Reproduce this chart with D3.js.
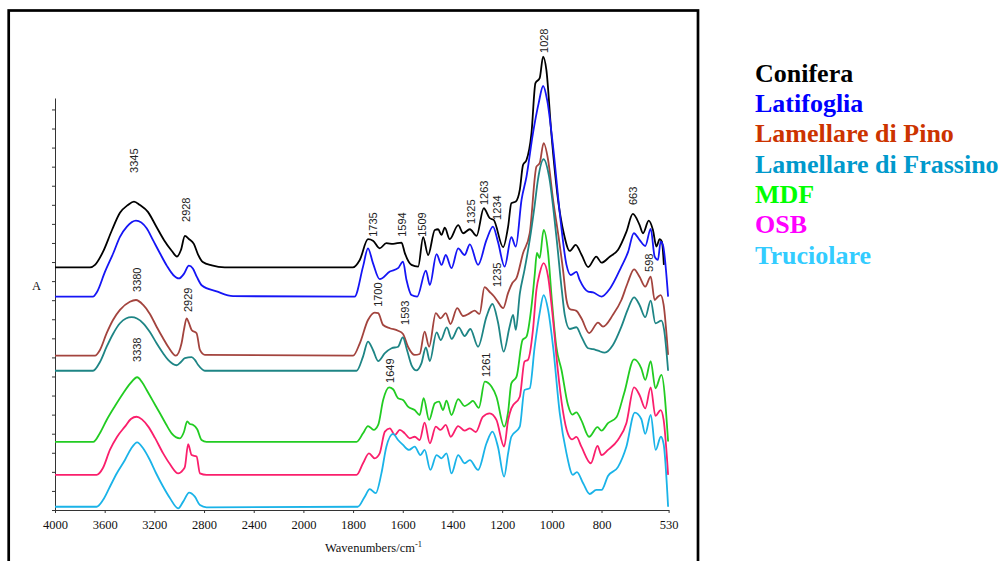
<!DOCTYPE html>
<html>
<head>
<meta charset="utf-8">
<script src="https://cdn.jsdelivr.net/npm/d3@7"></script>
<style>
  body { margin: 0; background: #fff; }
</style>
</head>
<body>
<script>
// spectra: [wavenumber cm-1, absorbance offset as plotted]
const conifera = [[4000,1.272],[3718,1.272],[3678,1.285],[3614,1.353],[3541,1.468],[3477,1.558],[3413,1.599],[3364,1.617],[3316,1.599],[3252,1.563],[3187,1.489],[3123,1.416],[3059,1.358],[3018,1.329],[2986,1.363],[2954,1.437],[2922,1.421],[2882,1.395],[2850,1.342],[2810,1.300],[2737,1.282],[2633,1.272],[1801,1.272],[1773,1.311],[1740,1.420],[1720,1.412],[1693,1.372],[1666,1.399],[1639,1.395],[1605,1.402],[1592,1.348],[1565,1.285],[1538,1.276],[1518,1.430],[1498,1.337],[1471,1.468],[1458,1.472],[1444,1.442],[1431,1.480],[1411,1.420],[1377,1.493],[1357,1.451],[1330,1.472],[1303,1.437],[1274,1.582],[1250,1.530],[1234,1.521],[1196,1.378],[1176,1.486],[1163,1.608],[1145,1.617],[1129,1.678],[1116,1.809],[1102,1.835],[1082,1.975],[1066,2.238],[1049,2.264],[1035,2.377],[1022,2.307],[1002,1.975],[975,1.626],[952,1.451],[928,1.358],[904,1.390],[880,1.337],[854,1.274],[821,1.328],[800,1.297],[767,1.328],[734,1.363],[700,1.458],[674,1.552],[647,1.495],[633,1.451],[610,1.517],[593,1.468],[579,1.381],[566,1.420],[557,1.407],[549,1.285]];

const latifoglia = [[4000,1.119],[3694,1.119],[3662,1.143],[3598,1.248],[3531,1.346],[3477,1.432],[3421,1.486],[3348,1.517],[3262,1.477],[3212,1.416],[3155,1.346],[3099,1.280],[3048,1.232],[3002,1.214],[2962,1.238],[2922,1.281],[2890,1.266],[2858,1.222],[2817,1.177],[2699,1.146],[2566,1.121],[1794,1.119],[1760,1.276],[1740,1.372],[1720,1.294],[1693,1.210],[1652,1.250],[1619,1.268],[1599,1.302],[1585,1.206],[1565,1.127],[1542,1.119],[1507,1.255],[1491,1.180],[1464,1.342],[1444,1.285],[1427,1.337],[1404,1.268],[1377,1.372],[1351,1.337],[1330,1.393],[1297,1.285],[1263,1.416],[1237,1.486],[1217,1.407],[1190,1.276],[1163,1.430],[1145,1.381],[1122,1.626],[1102,1.748],[1076,1.975],[1053,2.133],[1035,2.223],[1019,2.150],[995,1.905],[968,1.556],[941,1.285],[924,1.232],[901,1.248],[888,1.206],[854,1.145],[834,1.141],[800,1.119],[767,1.159],[720,1.276],[693,1.353],[670,1.451],[647,1.416],[624,1.384],[602,1.474],[586,1.328],[573,1.311],[562,1.407],[553,1.390],[532,1.119]];

const pino = [[4000,0.809],[3678,0.809],[3638,0.839],[3584,0.927],[3533,0.996],[3477,1.049],[3397,1.092],[3348,1.101],[3290,1.075],[3236,1.028],[3182,0.961],[3131,0.902],[3089,0.856],[3027,0.809],[2981,0.874],[2962,0.944],[2940,1.005],[2922,0.981],[2900,0.944],[2860,0.927],[2833,0.839],[2793,0.813],[1800,0.809],[1773,0.874],[1740,0.996],[1713,1.035],[1699,1.032],[1679,0.970],[1652,0.953],[1619,0.940],[1599,0.923],[1579,0.856],[1552,0.813],[1532,0.818],[1512,0.935],[1494,0.856],[1467,1.032],[1448,1.005],[1427,1.032],[1408,0.975],[1381,1.058],[1357,1.017],[1330,1.032],[1311,1.045],[1291,1.028],[1271,1.168],[1250,1.143],[1234,1.122],[1217,1.091],[1196,1.058],[1176,1.138],[1159,1.190],[1142,1.217],[1116,1.346],[1089,1.451],[1062,1.800],[1049,1.818],[1033,1.923],[1015,1.835],[995,1.626],[975,1.451],[955,1.259],[941,1.101],[928,1.054],[901,1.044],[881,1.005],[850,0.928],[814,0.982],[794,0.961],[754,1.023],[720,1.101],[695,1.190],[669,1.262],[647,1.223],[624,1.171],[602,1.223],[586,1.101],[574,1.117],[562,1.127],[550,1.075],[532,0.813]];

const frassino = [[4000,0.730],[3694,0.730],[3638,0.776],[3584,0.856],[3533,0.923],[3477,0.979],[3429,1.004],[3383,1.011],[3340,1.004],[3290,0.979],[3236,0.933],[3182,0.874],[3131,0.823],[3089,0.787],[3021,0.759],[2986,0.776],[2954,0.796],[2900,0.801],[2874,0.787],[2847,0.760],[2793,0.730],[1786,0.730],[1760,0.804],[1740,0.883],[1720,0.839],[1699,0.781],[1672,0.822],[1645,0.848],[1619,0.856],[1600,0.905],[1583,0.839],[1565,0.760],[1545,0.732],[1525,0.769],[1507,0.852],[1491,0.781],[1464,0.931],[1447,0.891],[1423,0.957],[1403,0.897],[1375,0.957],[1351,0.912],[1328,0.949],[1297,0.856],[1263,1.014],[1239,1.080],[1217,0.986],[1194,0.830],[1170,0.961],[1156,1.023],[1145,0.944],[1129,1.133],[1110,1.259],[1089,1.416],[1069,1.599],[1056,1.731],[1033,1.839],[1011,1.748],[982,1.437],[960,1.154],[948,1.023],[928,0.949],[901,0.958],[881,0.909],[854,0.848],[834,0.843],[814,0.835],[787,0.825],[754,0.865],[720,0.961],[695,1.049],[669,1.115],[647,1.075],[624,1.011],[602,1.098],[583,0.979],[559,0.993],[548,0.944],[532,0.730]];

const mdf = [[4000,0.357],[3692,0.357],[3638,0.404],[3584,0.472],[3517,0.545],[3451,0.612],[3397,0.661],[3338,0.696],[3300,0.671],[3262,0.629],[3212,0.572],[3155,0.507],[3107,0.451],[3061,0.402],[2994,0.376],[2962,0.409],[2936,0.465],[2914,0.451],[2887,0.446],[2855,0.423],[2820,0.367],[2780,0.357],[1786,0.357],[1760,0.402],[1740,0.440],[1717,0.420],[1699,0.446],[1679,0.577],[1655,0.643],[1639,0.633],[1619,0.586],[1599,0.577],[1579,0.542],[1552,0.524],[1532,0.498],[1516,0.586],[1494,0.472],[1471,0.560],[1454,0.568],[1438,0.524],[1424,0.573],[1404,0.498],[1377,0.581],[1351,0.545],[1330,0.561],[1318,0.572],[1294,0.535],[1270,0.673],[1243,0.647],[1223,0.594],[1192,0.437],[1176,0.515],[1163,0.664],[1142,0.699],[1118,0.891],[1102,0.909],[1082,1.066],[1069,1.232],[1060,1.348],[1049,1.321],[1033,1.468],[1015,1.348],[1000,1.101],[982,0.856],[961,0.734],[935,0.550],[918,0.500],[901,0.512],[881,0.470],[850,0.384],[816,0.434],[800,0.416],[774,0.455],[740,0.486],[709,0.612],[669,0.790],[640,0.743],[624,0.682],[602,0.781],[583,0.638],[559,0.708],[532,0.359]];

const osb = [[4000,0.184],[3665,0.184],[3614,0.220],[3558,0.315],[3501,0.383],[3437,0.437],[3389,0.477],[3343,0.489],[3300,0.475],[3249,0.437],[3195,0.378],[3129,0.297],[3075,0.241],[3008,0.192],[2970,0.210],[2954,0.227],[2928,0.345],[2900,0.288],[2860,0.280],[2833,0.192],[2780,0.184],[1786,0.184],[1760,0.245],[1736,0.297],[1713,0.271],[1693,0.297],[1672,0.411],[1652,0.428],[1632,0.393],[1612,0.420],[1592,0.402],[1572,0.376],[1552,0.384],[1532,0.367],[1512,0.458],[1491,0.350],[1467,0.437],[1448,0.420],[1427,0.446],[1407,0.384],[1377,0.440],[1351,0.416],[1330,0.428],[1306,0.409],[1278,0.488],[1250,0.507],[1223,0.472],[1192,0.332],[1176,0.472],[1163,0.533],[1129,0.594],[1110,0.778],[1096,0.787],[1076,0.944],[1062,1.154],[1049,1.241],[1033,1.294],[1015,1.223],[995,0.996],[976,0.734],[956,0.524],[935,0.399],[918,0.370],[901,0.383],[881,0.332],[843,0.245],[816,0.336],[800,0.288],[774,0.315],[734,0.367],[700,0.455],[669,0.643],[647,0.603],[624,0.533],[602,0.643],[583,0.493],[562,0.524],[550,0.472],[532,0.184]];

const truciolare = [[4000,0.017],[3665,0.017],[3614,0.052],[3558,0.122],[3501,0.194],[3437,0.262],[3389,0.320],[3338,0.355],[3292,0.325],[3236,0.262],[3187,0.194],[3129,0.122],[3075,0.063],[3008,0.009],[2968,0.044],[2920,0.091],[2874,0.070],[2833,0.026],[2780,0.014],[1781,0.017],[1753,0.070],[1733,0.109],[1709,0.088],[1686,0.192],[1666,0.332],[1639,0.399],[1619,0.367],[1599,0.341],[1575,0.315],[1552,0.332],[1529,0.288],[1512,0.315],[1489,0.210],[1464,0.288],[1444,0.271],[1424,0.297],[1404,0.192],[1377,0.288],[1351,0.245],[1330,0.262],[1297,0.210],[1263,0.350],[1239,0.411],[1217,0.332],[1192,0.175],[1176,0.297],[1163,0.384],[1129,0.437],[1110,0.629],[1089,0.638],[1069,0.856],[1049,1.032],[1033,1.127],[1015,1.049],[995,0.856],[968,0.507],[941,0.297],[915,0.184],[899,0.199],[874,0.140],[848,0.084],[821,0.105],[800,0.105],[774,0.178],[734,0.225],[700,0.332],[666,0.511],[640,0.477],[624,0.399],[602,0.498],[582,0.315],[561,0.384],[550,0.346],[532,0.017]];

const seriesNames = ['Conifera', 'Latifoglia', 'Lamellare di Pino', 'Lamellare di Frassino', 'MDF', 'OSB', 'Truciolare'];
const seriesData = [conifera, latifoglia, pino, frassino, mdf, osb, truciolare];
const lineColors = ['#000000', '#1515f5', '#a3443e', '#1e8585', '#22cc22', '#fa1f6c', '#1ab3e8'];
const legendColors = ['#000000', '#0000ff', '#cc3300', '#0099cc', '#00ff00', '#ff00ff', '#33ccff'];

const xTicks = [4000, 3600, 3200, 2800, 2400, 2000, 1800, 1600, 1400, 1200, 1000, 800, 530];

// peak annotations: label, wavenumber where the label sits, absorbance at text start
const peakLabels = [
  { text: '3345', wn: 3364, a: 1.767 },
  { text: '2928', wn: 2946, a: 1.510 },
  { text: '3380', wn: 3340, a: 1.143 },
  { text: '2929', wn: 2930, a: 1.038 },
  { text: '3338', wn: 3340, a: 0.776 },
  { text: '1735', wn: 1721, a: 1.432 },
  { text: '1594', wn: 1604, a: 1.432 },
  { text: '1509', wn: 1523, a: 1.432 },
  { text: '1325', wn: 1326, a: 1.500 },
  { text: '1263', wn: 1271, a: 1.599 },
  { text: '1234', wn: 1220, a: 1.521 },
  { text: '1028', wn: 1030, a: 2.396 },
  { text: '663', wn: 675, a: 1.599 },
  { text: '598', wn: 607, a: 1.248 },
  { text: '1700', wn: 1701, a: 1.065 },
  { text: '1593', wn: 1589, a: 0.970 },
  { text: '1235', wn: 1222, a: 1.169 },
  { text: '1649', wn: 1652, a: 0.666 },
  { text: '1261', wn: 1263, a: 0.697 }
];

const width = 1006;
const height = 561;

const svg = d3.select('body')
  .append('svg')
  .attr('width', width)
  .attr('height', height);

// outer frame, bottom edge runs off the picture
svg.append('rect')
  .attr('x', 8.7)
  .attr('y', 10.5)
  .attr('width', 689.3)
  .attr('height', 580)
  .attr('fill', 'none')
  .attr('stroke', '#000')
  .attr('stroke-width', 2.7);

// OMNIC style axis: scale doubles below 2000 cm-1
const x = d3.scaleLinear()
  .domain([4000, 2000, 530])
  .range([55, 303.4, 668.6]);

const y = d3.scaleLinear()
  .domain([0, 2.16])
  .range([510, 98]);

// x axis
const xAxis = svg.append('g')
  .attr('transform', `translate(0,${y(0)})`)
  .call(d3.axisBottom(x)
    .tickValues(xTicks)
    .tickFormat(d3.format('d'))
    .tickSize(3)
    .tickSizeOuter(0)
    .tickPadding(7));

xAxis.selectAll('text')
  .style('font-family', '"Liberation Serif", "Times New Roman", serif')
  .style('font-size', '12.5px')
  .attr('fill', '#111');
xAxis.selectAll('path, line').attr('stroke', '#333');

// y axis, no numbers
const yAxis = svg.append('g')
  .attr('transform', `translate(${x(4000)},0)`)
  .call(d3.axisLeft(y).tickValues(d3.range(0, 2.15, 0.1)).tickSize(3).tickSizeOuter(0).tickFormat(''));
yAxis.selectAll('path, line').attr('stroke', '#333');

svg.append('text')
  .attr('x', 32)
  .attr('y', 290)
  .style('font-family', '"Liberation Serif", "Times New Roman", serif')
  .style('font-size', '12.5px')
  .attr('fill', '#111')
  .text('A');

const xTitle = svg.append('text')
  .attr('x', 325)
  .attr('y', 552)
  .style('font-family', '"Liberation Serif", "Times New Roman", serif')
  .style('font-size', '12.5px')
  .attr('fill', '#111')
  .text('Wavenumbers/cm');
xTitle.append('tspan')
  .attr('dy', -5)
  .style('font-size', '8.5px')
  .text('-1');

// spectra
const line = d3.line()
  .x((d) => x(d[0]))
  .y((d) => y(d[1]))
  .curve(d3.curveMonotoneX);

svg.selectAll('.spectrum')
  .data(seriesData)
  .join('path')
  .attr('class', 'spectrum')
  .attr('d', (d) => line(d))
  .attr('fill', 'none')
  .attr('stroke', (d, i) => lineColors[i])
  .attr('stroke-width', 1.8)
  .attr('stroke-linejoin', 'round');

// rotated peak labels
svg.selectAll('.peak-label')
  .data(peakLabels)
  .join('text')
  .attr('class', 'peak-label')
  .attr('transform', (d) => `translate(${x(d.wn)},${y(d.a)}) rotate(-90)`)
  .attr('dy', '0.36em')
  .style('font-family', '"Liberation Sans", Arial, sans-serif')
  .style('font-size', '11px')
  .attr('fill', '#222')
  .text((d) => d.text);

// legend
svg.selectAll('.legend-item')
  .data(seriesNames)
  .join('text')
  .attr('class', 'legend-item')
  .attr('x', 755)
  .attr('y', (d, i) => 81.7 + i * 30.3)
  .style('font-family', '"Liberation Serif", "Times New Roman", serif')
  .style('font-size', '26px')
  .style('font-weight', 'bold')
  .attr('fill', (d, i) => legendColors[i])
  .text((d) => d);
</script>
</body>
</html>
